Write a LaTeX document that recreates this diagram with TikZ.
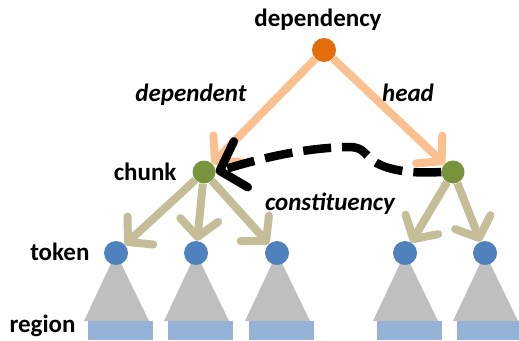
\documentclass[tikz,border=0pt]{standalone}
\usepackage{fontspec}
\setmainfont{Carlito}
\usetikzlibrary{arrows.meta,positioning,calc}
\definecolor{deporange}{HTML}{E46C0A}
\definecolor{chunkgreen}{HTML}{77933C}
\definecolor{tokblue}{HTML}{4F81BD}
\definecolor{peach}{HTML}{FAC090}
\definecolor{tan}{HTML}{C4BD97}
\definecolor{treegray}{HTML}{BFBFBF}
\definecolor{regblue}{HTML}{95B3D7}
\tikzset{
  dot/.style={circle, inner sep=0pt, minimum size=23pt},
  lab/.style={font=\fontsize{25}{28}\selectfont\bfseries},
  rel/.style={font=\fontsize{25}{28}\selectfont\bfseries\itshape},
  headedge/.style={draw=peach, line width=8pt, -{Straight Barb[length=17pt,width=38pt,round]}},
  consedge/.style={draw=tan, line width=8pt, -{Straight Barb[length=17pt,width=38pt,round]}},
  depedge/.style={draw=black, line width=8.5pt, dash pattern=on 28pt off 11pt, -{Straight Barb[length=22pt,width=48pt,round]}}
}
\begin{document}
\begin{tikzpicture}[x=1pt,y=-1pt]
                    \useasboundingbox (0,0) rectangle (519,340);
                    % subtrees and regions
                    \foreach \x in {116,196,277,405,485} {
                      \fill[treegray] (\x,253) -- (\x-32,321) -- (\x+33,321) -- cycle;
                      \fill[regblue] (\x-28,321) rectangle (\x+37,340);
                    }
                    \node [dot, fill=deporange, minimum size=24pt] (dep) at (324,50) {};
                    \node [dot, fill=chunkgreen] (chunkL) at (204,172) {};
                    \node [dot, fill=chunkgreen] (chunkR) at (453,172) {};
                    \node [dot, fill=tokblue, minimum size=24pt] (tokA) at (116,253) {};
                    \node [dot, fill=tokblue, minimum size=24pt] (tokB) at (196,253) {};
                    \node [dot, fill=tokblue, minimum size=24pt] (tokC) at (277,253) {};
                    \node [dot, fill=tokblue, minimum size=24pt] (tokD) at (405,253) {};
                    \node [dot, fill=tokblue, minimum size=24pt] (tokE) at (485,253) {};
                    % labels
                    \node [lab] (deplab) at (318,20) {dependency};
                    \node [lab, anchor=east] (chunklab) at (180,172) {chunk};
                    \node [lab, anchor=east] (toklab) at (93,252) {token};
                    \node [lab, anchor=west] (reglab) at (6,326) {region};
                    \node [rel] (deptlab) at (191,95) {dependent};
                    \node [rel] (headlab) at (408,93) {head};
                    \node [rel] (conslab) at (330,204) {constituency};
                    % edges
                    \draw [headedge] (dep) -- (chunkL);
                    \draw [headedge] (dep) -- (chunkR);
                    \draw [consedge] (chunkL) -- (tokA);
                    \draw [consedge] (chunkL) -- (tokB);
                    \draw [consedge] (chunkL) -- (tokC);
                    \draw [consedge] (chunkR) -- (tokD);
                    \draw [consedge] (chunkR) -- (tokE);
                    \draw [depedge] (chunkR.west) .. controls (410,174) and (385,170) .. (372,160)
                      .. controls (362,150) and (360,147) .. (348,147)
                      .. controls (300,148) and (255,160) .. (chunkL.east);
                \end{tikzpicture}
\end{document}
